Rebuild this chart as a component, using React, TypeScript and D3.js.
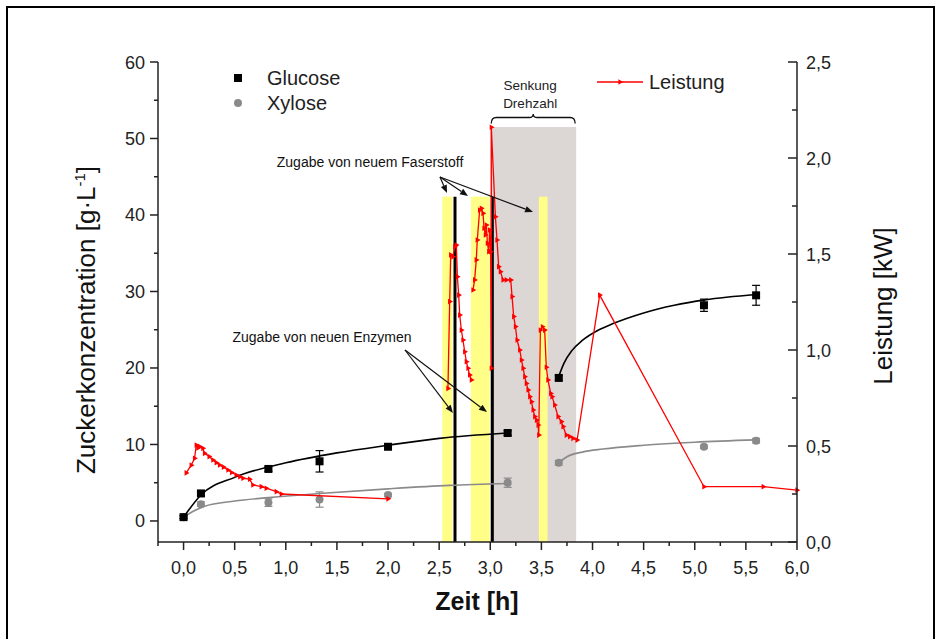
import React from 'react';
import * as d3 from 'd3';

const W = 939;
const H = 639;

// ---- tick values ----
const xMajorTicks = [0, 0.5, 1, 1.5, 2, 2.5, 3, 3.5, 4, 4.5, 5, 5.5, 6];
const xMinorTicks = [-0.25, 0.25, 0.75, 1.25, 1.75, 2.25, 2.75, 3.25, 3.75, 4.25, 4.75, 5.25, 5.75];
const leftMajorTicks = [0, 10, 20, 30, 40, 50, 60];
const leftMinorTicks = [5, 15, 25, 35, 45, 55];
const rightMajorTicks = [0, 0.5, 1, 1.5, 2, 2.5];
const rightMinorTicks = [0.25, 0.75, 1.25, 1.75, 2.25];

// ---- sugar data ----
const sugarTime = [0, 0.17, 0.83, 1.33, 2.0, 3.17, 3.67, 5.09, 5.6];
const glucoseConc = [0.5, 3.6, 6.8, 7.8, 9.7, 11.5, 18.7, 28.2, 29.5];
const glucoseErr = [0.2, 0.3, 0.3, 1.4, 0.3, 0.3, 0.3, 0.8, 1.3];
const xyloseConc = [0.5, 2.2, 2.4, 2.8, 3.4, 5.0, 7.6, 9.7, 10.5];
const xyloseErr = [0.2, 0.3, 0.5, 1.0, 0.2, 0.6, 0.3, 0.2, 0.3];

// ---- fitted curves ----
const glucoseFit1: [number, number][] = [[0, 0.5], [0.17, 3.4], [0.5, 5.7], [1.0, 7.6], [1.5, 8.9], [2.0, 9.9], [2.5, 10.8], [3.17, 11.5]];
const xyloseFit1: [number, number][] = [[0, 0.5], [0.1, 1.3], [0.2, 1.9], [0.5, 2.6], [0.83, 3.05], [1.33, 3.6], [2.0, 4.2], [2.6, 4.65], [3.17, 4.9]];
const glucoseFit2: [number, number][] = [[3.67, 18.9], [3.72, 20.6], [3.8, 22.3], [3.9, 23.6], [4.05, 24.9], [4.2, 25.8], [4.5, 27.2], [4.8, 28.2], [5.1, 28.9], [5.6, 29.6]];
const xyloseFit2: [number, number][] = [[3.67, 7.6], [3.75, 8.4], [3.9, 9.0], [4.1, 9.4], [4.5, 9.9], [5.0, 10.3], [5.6, 10.6]];

// ---- power (Leistung, kW) ----
const leistungSeg1: [number, number][] = [
  [0.026, 0.36], [0.075, 0.40], [0.108, 0.436], [0.124, 0.505], [0.14, 0.49], [0.157, 0.497], [0.189, 0.488],
  [0.205, 0.462], [0.25, 0.445], [0.287, 0.427], [0.32, 0.413], [0.352, 0.401], [0.39, 0.39], [0.434, 0.375],
  [0.47, 0.362], [0.515, 0.349], [0.55, 0.34], [0.581, 0.332], [0.646, 0.327], [0.678, 0.297], [0.76, 0.288],
  [0.809, 0.28], [0.907, 0.262], [0.956, 0.25], [2.0, 0.225],
];
const leistungSeg2: [number, number][] = [
  [2.586, 0.8], [2.603, 1.252], [2.613, 1.495], [2.635, 1.486], [2.652, 1.538], [2.668, 1.547], [2.678, 1.382],
  [2.691, 1.286], [2.701, 1.182], [2.717, 1.104], [2.733, 1.052], [2.75, 0.991], [2.766, 0.939], [2.782, 0.905],
  [2.798, 0.87], [2.815, 0.844],
];
const leistungSeg3: [number, number][] = [
  [2.831, 1.3125], [2.847, 1.365], [2.863, 1.469], [2.873, 1.573], [2.896, 1.729], [2.913, 1.738], [2.929, 1.712],
  [2.939, 1.634], [2.952, 1.599], [2.962, 1.651], [2.972, 1.556], [2.985, 1.512], [2.994, 1.625], [3.004, 1.512],
  [3.01, 0.905], [3.01, 2.16], [3.05, 1.694], [3.066, 1.573], [3.082, 1.434], [3.099, 1.408], [3.125, 1.365],
  [3.157, 1.365], [3.2, 1.365], [3.213, 1.278], [3.229, 1.174], [3.246, 1.122], [3.262, 1.052], [3.288, 1.0],
  [3.305, 0.948], [3.321, 0.905], [3.337, 0.861], [3.353, 0.826], [3.37, 0.792], [3.386, 0.757], [3.403, 0.731],
  [3.419, 0.688], [3.435, 0.653], [3.452, 0.635], [3.468, 0.609], [3.474, 0.557], [3.49, 1.104], [3.51, 1.121],
  [3.532, 1.104], [3.548, 0.91], [3.564, 0.844], [3.591, 0.774], [3.604, 0.757], [3.63, 0.714], [3.663, 0.653],
  [3.695, 0.627], [3.712, 0.601], [3.744, 0.557], [3.777, 0.549], [3.809, 0.54], [3.849, 0.531], [4.07, 1.286],
  [5.09, 0.288], [5.67, 0.288], [6.0, 0.27],
];

// ---- shaded regions (x from, x to, top in g/L) ----
const yellowBands: [number, number][] = [[2.53, 2.63], [2.81, 2.995], [3.475, 3.56]];
const yellowTop = 42.4;
const grayBand: [number, number] = [3.0, 3.84];
const grayTop = 51.5;
const enzymeLines = [2.655, 3.02];

const FONT = "'Liberation Sans', Arial, Helvetica, sans-serif";

export default function App() {
  const x = d3.scaleLinear().domain([-0.25, 6]).range([158, 797]);
  const yL = d3.scaleLinear().domain([-2.75, 60]).range([542, 62]);
  const yR = d3.scaleLinear().domain([0, 2.5]).range([542, 62]);

  const fitLine = d3
    .line<[number, number]>()
    .x((d) => x(d[0]))
    .y((d) => yL(d[1]))
    .curve(d3.curveMonotoneX);
  const powLine = d3
    .line<[number, number]>()
    .x((d) => x(d[0]))
    .y((d) => yR(d[1]));
  const tri = d3.symbol().type(d3.symbolTriangle).size(14)() as string;
  const fmt = (v: number, dgt: number) => v.toFixed(dgt).replace('.', ',');

  const arrow = (x1: number, y1: number, x2: number, y2: number, key: string) => {
    const px1 = x(x1), py1 = yL(y1), px2 = x(x2), py2 = yL(y2);
    const ang = Math.atan2(py2 - py1, px2 - px1);
    const L = 8, Wd = 3.2;
    const bx = px2 - L * Math.cos(ang), by = py2 - L * Math.sin(ang);
    const p1 = [bx + Wd * Math.sin(ang), by - Wd * Math.cos(ang)];
    const p2 = [bx - Wd * Math.sin(ang), by + Wd * Math.cos(ang)];
    return (
      <g key={key}>
        <line x1={px1} y1={py1} x2={bx} y2={by} stroke="#111" strokeWidth={1.2} />
        <path d={`M${px2},${py2}L${p1[0]},${p1[1]}L${p2[0]},${p2[1]}Z`} fill="#111" />
      </g>
    );
  };

  const segs = [leistungSeg1, leistungSeg2, leistungSeg3];

  // brace for "Senkung Drehzahl"
  const bx0 = x(grayBand[0]), bx1 = x(grayBand[1]);
  const bmid = (bx0 + bx1) / 2;
  const by = 117.5;
  const brace = `M${bx0 + 1},${by + 6} Q${bx0 + 1},${by} ${bx0 + 6},${by} L${bmid - 4},${by} Q${bmid},${by} ${bmid},${by - 3.5} Q${bmid},${by} ${bmid + 4},${by} L${bx1 - 6},${by} Q${bx1 - 1},${by} ${bx1 - 1},${by + 6}`;

  return (
    <svg width={W} height={H} style={{ position: 'absolute', left: 0, top: 0, background: '#fff' }} fontFamily={FONT}>
      <rect x={0} y={0} width={W} height={H} fill="#fff" />
      <rect x={7} y={7} width={927} height={640} fill="none" stroke="#000" strokeWidth={2} />

      {/* shaded regions */}
      <rect x={x(grayBand[0])} y={yL(grayTop)} width={x(grayBand[1]) - x(grayBand[0])} height={542 - yL(grayTop)} fill="#dcd6d4" />
      {yellowBands.map((b, i) => (
        <rect key={i} x={x(b[0])} y={yL(yellowTop)} width={x(b[1]) - x(b[0])} height={542 - yL(yellowTop)} fill="#ffff88" />
      ))}
      {enzymeLines.map((v, i) => (
        <line key={i} x1={x(v)} x2={x(v)} y1={542} y2={yL(yellowTop)} stroke="#000" strokeWidth={3} />
      ))}

      {/* fitted curves */}
      <path d={fitLine(xyloseFit1) as string} fill="none" stroke="#8a8a8a" strokeWidth={1.6} />
      <path d={fitLine(xyloseFit2) as string} fill="none" stroke="#8a8a8a" strokeWidth={1.6} />
      <path d={fitLine(glucoseFit1) as string} fill="none" stroke="#000" strokeWidth={1.6} />
      <path d={fitLine(glucoseFit2) as string} fill="none" stroke="#000" strokeWidth={1.6} />

      {/* xylose points */}
      {sugarTime.map((t, i) => (
        <g key={'xy' + i} stroke="#8a8a8a" strokeWidth={1.2}>
          <line x1={x(t)} x2={x(t)} y1={yL(xyloseConc[i] - xyloseErr[i])} y2={yL(xyloseConc[i] + xyloseErr[i])} />
          <line x1={x(t) - 4} x2={x(t) + 4} y1={yL(xyloseConc[i] - xyloseErr[i])} y2={yL(xyloseConc[i] - xyloseErr[i])} />
          <line x1={x(t) - 4} x2={x(t) + 4} y1={yL(xyloseConc[i] + xyloseErr[i])} y2={yL(xyloseConc[i] + xyloseErr[i])} />
          <circle cx={x(t)} cy={yL(xyloseConc[i])} r={4} fill="#8a8a8a" stroke="none" />
        </g>
      ))}
      {/* glucose points */}
      {sugarTime.map((t, i) => (
        <g key={'gl' + i} stroke="#000" strokeWidth={1.2}>
          <line x1={x(t)} x2={x(t)} y1={yL(glucoseConc[i] - glucoseErr[i])} y2={yL(glucoseConc[i] + glucoseErr[i])} />
          <line x1={x(t) - 4} x2={x(t) + 4} y1={yL(glucoseConc[i] - glucoseErr[i])} y2={yL(glucoseConc[i] - glucoseErr[i])} />
          <line x1={x(t) - 4} x2={x(t) + 4} y1={yL(glucoseConc[i] + glucoseErr[i])} y2={yL(glucoseConc[i] + glucoseErr[i])} />
          <rect x={x(t) - 4} y={yL(glucoseConc[i]) - 4} width={8} height={8} fill="#000" stroke="none" />
        </g>
      ))}

      {/* power line */}
      {segs.map((s, i) => (
        <g key={'seg' + i}>
          <path d={powLine(s) as string} fill="none" stroke="#ff0000" strokeWidth={1.3} />
          {s.map((d, j) => (
            <path key={j} d={tri} transform={`translate(${x(d[0])},${yR(d[1])}) rotate(90)`} fill="#ff0000" />
          ))}
        </g>
      ))}

      {/* axes */}
      <g stroke="#222" strokeWidth={1.5} fill="none">
        <line x1={158} x2={158} y1={62} y2={542} />
        <line x1={797} x2={797} y1={62} y2={542} />
        <line x1={158} x2={797} y1={542} y2={542} />
        {xMajorTicks.map((v) => <line key={'xm' + v} x1={x(v)} x2={x(v)} y1={542} y2={550} />)}
        {xMinorTicks.map((v) => <line key={'xn' + v} x1={x(v)} x2={x(v)} y1={542} y2={546} />)}
        {leftMajorTicks.map((v) => <line key={'lm' + v} x1={150} x2={158} y1={yL(v)} y2={yL(v)} />)}
        {leftMinorTicks.map((v) => <line key={'ln' + v} x1={154} x2={158} y1={yL(v)} y2={yL(v)} />)}
        {rightMajorTicks.map((v) => <line key={'rm' + v} x1={788} x2={797} y1={yR(v)} y2={yR(v)} />)}
        {rightMinorTicks.map((v) => <line key={'rn' + v} x1={792} x2={797} y1={yR(v)} y2={yR(v)} />)}
      </g>
      <g fontSize={18} fill="#222">
        {xMajorTicks.map((v) => (
          <text key={'xl' + v} x={x(v)} y={574} textAnchor="middle">{fmt(v, 1)}</text>
        ))}
        {leftMajorTicks.map((v) => (
          <text key={'ll' + v} x={145} y={yL(v) + 6.5} textAnchor="end">{v}</text>
        ))}
        {rightMajorTicks.map((v) => (
          <text key={'rl' + v} x={806} y={yR(v) + 6.5} textAnchor="start">{fmt(v, 1)}</text>
        ))}
      </g>

      {/* axis titles */}
      <text x={477} y={610} textAnchor="middle" fontSize={25} fontWeight="bold" fill="#111">Zeit [h]</text>
      <text transform="translate(95,320) rotate(-90)" textAnchor="middle" fontSize={26} fill="#111">
        Zuckerkonzentration [g·L<tspan dy={-10} fontSize={15}>-1</tspan><tspan dy={10}>]</tspan>
      </text>
      <text transform="translate(892,306) rotate(-90)" textAnchor="middle" fontSize={26} fill="#111">Leistung [kW]</text>

      {/* legends */}
      <rect x={234} y={74} width={8} height={8} fill="#000" />
      <text x={267} y={85} fontSize={20} fill="#222">Glucose</text>
      <circle cx={238} cy={103} r={4} fill="#8a8a8a" />
      <text x={267} y={110} fontSize={20} fill="#222">Xylose</text>
      <line x1={597} x2={643} y1={82} y2={82} stroke="#ff0000" strokeWidth={1.3} />
      <path d={tri} transform="translate(620,82) rotate(90)" fill="#ff0000" />
      <text x={649} y={89} fontSize={20} fill="#222">Leistung</text>

      {/* annotations */}
      <text x={x(3.39)} y={90} textAnchor="middle" fontSize={13.5} fill="#222">Senkung</text>
      <text x={x(3.39)} y={108} textAnchor="middle" fontSize={13.5} fill="#222">Drehzahl</text>
      <path d={brace} fill="none" stroke="#111" strokeWidth={1.3} />

      <text x={x(1.824)} y={yL(46.93) + 5} textAnchor="middle" fontSize={14} fill="#111">Zugabe von neuem Faserstoff</text>
      {arrow(2.508, 44.97, 2.577, 42.87, 'a1')}
      {arrow(2.508, 44.97, 2.782, 42.48, 'a2')}
      {arrow(2.508, 44.97, 3.418, 40.39, 'a3')}

      <text x={x(1.354)} y={yL(24.05) + 5} textAnchor="middle" fontSize={14} fill="#111">Zugabe von neuen Enzymen</text>
      {arrow(2.166, 22.35, 2.635, 14.11, 'b1')}
      {arrow(2.166, 22.35, 2.968, 14.24, 'b2')}
    </svg>
  );
}
